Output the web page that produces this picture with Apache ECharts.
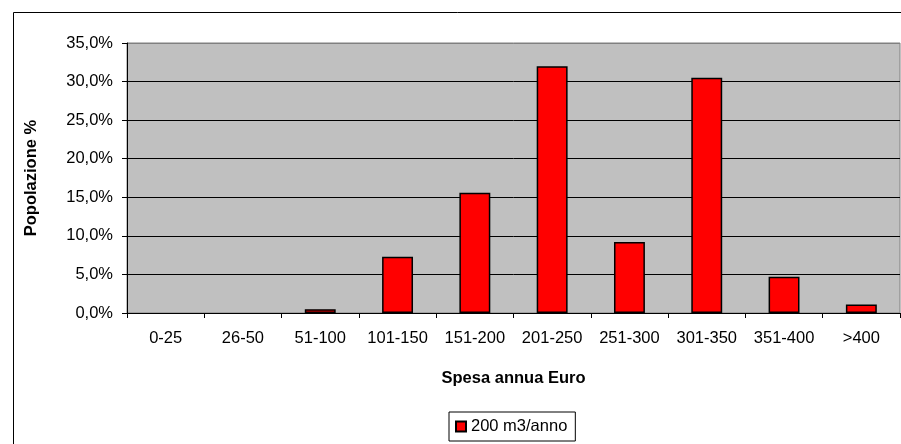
<!DOCTYPE html>
<html>
<head>
<meta charset="utf-8">
<script src="https://cdn.jsdelivr.net/npm/echarts@6/dist/echarts.min.js"></script>
<style>
html,body{margin:0;padding:0;background:#fff;}
#chart{width:901px;height:444px;}
</style>
</head>
<body>
<div id="chart"></div>
<script>
var categories = ['0-25','26-50','51-100','101-150','151-200','201-250','251-300','301-350','351-400','>400'];
var values = [0, 0, 0.5, 7.3, 15.6, 32.0, 9.2, 30.5, 4.7, 1.1];
var seriesName = '200 m3/anno';
var yName = 'Popolazione %';
var xName = 'Spesa annua Euro';

var FONT = '"Liberation Sans", Arial, sans-serif';
var chart = echarts.init(document.getElementById('chart'), null, {renderer:'canvas'});
chart.setOption({
  animation: false,
  backgroundColor: '#fff',
  textStyle: {fontFamily: FONT},
  graphic: [{
    type: 'rect', left: 11, top: 10, z: -10,
    shape: {width: 900, height: 450},
    style: {fill: 'none', stroke: '#000', lineWidth: 1}
  }],
  grid: {
    left: 127, right: 1, top: 43, bottom: 131,
    show: true, backgroundColor: '#C0C0C0', borderColor: '#808080', borderWidth: 1
  },
  legend: {
    show: true,
    left: 449, top: 412,
    padding: [6, 8, 6, 6],
    itemWidth: 10, itemHeight: 10,
    borderColor: '#000', borderWidth: 1,
    textStyle: {fontFamily: FONT, fontSize: 16.5, color: '#000'},
    data: [{name: seriesName, icon: 'rect'}]
  },
  xAxis: {
    type: 'category',
    data: categories,
    name: xName,
    nameLocation: 'middle',
    nameGap: 57,
    nameTextStyle: {fontFamily: FONT, fontSize: 16.5, fontWeight: 'bold', color: '#000'},
    axisLine: {show: true, lineStyle: {color: '#000', width: 1}},
    axisTick: {show: true, length: 5, lineStyle: {color: '#000'}},
    axisLabel: {fontFamily: FONT, fontSize: 16.5, color: '#000', margin: 17, interval: 0}
  },
  yAxis: {
    type: 'value',
    min: 0, max: 35, interval: 5,
    name: yName,
    nameLocation: 'middle',
    nameRotate: 90,
    nameGap: 87,
    nameTextStyle: {fontFamily: FONT, fontSize: 16.5, fontWeight: 'bold', color: '#000'},
    axisLine: {show: true, lineStyle: {color: '#000', width: 1}},
    axisTick: {show: true, length: 5, lineStyle: {color: '#000'}},
    axisLabel: {
      fontFamily: FONT, fontSize: 16.5, color: '#000', margin: 14,
      formatter: function (v) { return v.toFixed(1).replace('.', ',') + '%'; }
    },
    splitLine: {show: true, lineStyle: {color: ['#000','#000','#000','#000','#000','#000','#000','#808080'], width: 1}}
  },
  series: [{
    name: seriesName,
    type: 'bar',
    data: values.map(function (v) { return v === 0 ? '-' : v; }),
    barCategoryGap: '60%',
    itemStyle: {color: '#FF0000', borderColor: '#000', borderWidth: 1.5}
  }]
});
</script>
</body>
</html>
